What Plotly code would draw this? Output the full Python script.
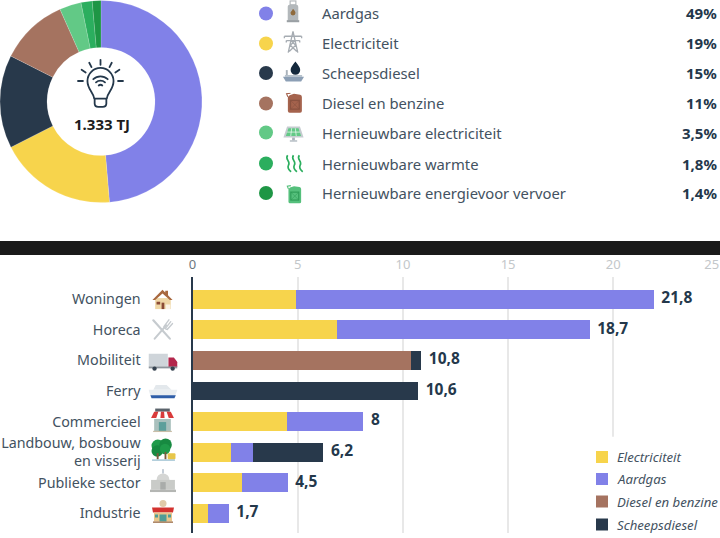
import base64
import plotly.graph_objects as go

W, H = 720, 538
FONT = "Noto Sans"
TXT = "#435261"
DARK = "#24384b"

# ---- data ----
pie_labels = ["Aardgas", "Electriciteit", "Scheepsdiesel", "Diesel en benzine",
              "Hernieuwbare electriciteit", "Hernieuwbare warmte", "Hernieuwbare energievoor vervoer"]
pie_values = [49, 19, 15, 11, 3.5, 1.8, 1.4]
pie_texts = ["49%", "19%", "15%", "11%", "3,5%", "1,8%", "1,4%"]
pie_colors = ["#8181e8", "#f7d44c", "#28394b", "#a57360", "#62c986", "#2bae5e", "#1e9645"]
pie_rows = [13.5, 43.5, 73, 103.5, 132.5, 163.5, 193]

categories = ["Woningen", "Horeca", "Mobiliteit", "Ferry", "Commercieel",
              "Landbouw, bosbouw<br>en visserij", "Publieke sector", "Industrie"]
electriciteit = [4.9, 6.85, 0, 0, 4.45, 1.8, 2.35, 0.7]
aardgas = [17.0, 12.0, 0, 0, 3.65, 1.05, 2.15, 1.0]
diesel = [0, 0, 10.35, 0, 0, 0, 0, 0]
scheepsdiesel = [0, 0, 0.5, 10.7, 0, 3.35, 0, 0]
totals = ["21,8", "18,7", "10,8", "10,6", "8", "6,2", "4,5", "1,7"]
x_ticks = [0, 5, 10, 15, 20, 25]
series_names = ["Electriciteit", "Aardgas", "Diesel en benzine", "Scheepsdiesel"]
series_colors = ["#f7d44c", "#8181e8", "#a57360", "#28394b"]
series_rows = [457, 479, 501.5, 524.5]


def px(v):
    return v / W


def py(v):
    return 1 - v / H


def svg(body, vb=24):
    s = (f'<svg xmlns="http://www.w3.org/2000/svg" width="192" height="192" '
         f'viewBox="0 0 {vb} {vb}">{body}</svg>')
    return "data:image/svg+xml;base64," + base64.b64encode(s.encode()).decode()


def can(c1, c2):
    return (f'<path d="M7 3L12 1.5L19 2.5Q21 3 21 5V21Q21 23 19 23H7Q5 23 5 21V5Z" fill="{c1}"/>'
            f'<path d="M5 5L3.5 1.5L8 0.8" fill="none" stroke="{c1}" stroke-width="1.3"/>'
            f'<rect x="8" y="9" width="10" height="10" fill="none" stroke="{c2}" stroke-width="1.5"/>'
            f'<path d="M8 9L18 19M18 9L8 19" stroke="{c2}" stroke-width=".7"/>')


icons = {
    "gas": (svg('<rect x="6.5" y="5" width="11" height="17" rx="2" fill="#b3b8bb"/>'
                '<rect x="9" y="1" width="6" height="4" fill="none" stroke="#b3b8bb" stroke-width="1.2"/>'
                '<rect x="5.5" y="21" width="13" height="2.2" fill="#9aa0a4"/>'
                '<path d="M12 9c1.6 2 2.6 3 2.6 4.6a2.6 2.6 0 0 1-5.2 0c0-1 .8-1.8 1.3-2.2z" fill="#8f6a3c"/>'), 293, 11.5, 23),
    "pylon": (svg('<path d="M12 1L7 23M12 1L17 23M3 6H21M5 10.5H19M9.8 10.5L14.8 15.5L8 22M14.2 10.5L9.2 15.5L16 22'
                  'M3 6V8M21 6V8M5 10.5V12.5M19 10.5V12.5" fill="none" stroke="#a6acb2" stroke-width="1.4"/>'), 293, 42, 23),
    "ship": (svg('<path d="M14 1c3 4 5 6 5 9a5 5 0 0 1-10 0c0-3 2-5 5-9z" fill="#14293d"/>'
                 '<rect x="4" y="10" width="2" height="6" fill="#aab3bb"/>'
                 '<path d="M3 15H21V17H3z" fill="#b7c2cc"/><path d="M1 17H23L20 22H4z" fill="#8c9fb5"/>'), 293.5, 72, 23),
    "can": (svg(can("#a5634d", "#8a5240")), 294, 103, 21),
    "solar": (svg('<path d="M5 5H19L23 17H1z" fill="#c5ccd0"/><path d="M6.5 6.8H17.5L20.3 15.3H3.7z" fill="#62c986"/>'
                  '<path d="M10 6.8L9 15.3M14 6.8L15 15.3M5 11H19" stroke="#fff" stroke-width=".7"/>'
                  '<rect x="10.5" y="17" width="3" height="3" fill="#aab3bb"/><rect x="8" y="20" width="8" height="1.4" fill="#aab3bb"/>'), 293.5, 133, 22),
    "heat": (svg('<path d="M5 2C1 7 9 9 6 14C4 18 7 20 9 22M12 2C8 7 16 9 13 14C11 18 14 20 16 22M19 2C15 7 23 9 20 14C18 18 21 20 23 22" '
                 'fill="none" stroke="#2bae5e" stroke-width="2"/>'), 293.5, 163.5, 20),
    "gcan": (svg(can("#55c07c", "#2f9c58")), 294, 194.5, 19),
    "house": (svg('<rect x="4" y="11" width="17" height="12" fill="#efd7a6"/>'
                  '<path d="M1 13L12 2L15 5V3H18V8L23 13H20L12 6L4 13z" fill="#a8683f"/>'
                  '<rect x="11" y="16" width="3" height="7" fill="#8a4b35"/><rect x="5.5" y="15" width="4" height="3" fill="#8a4b35"/>'
                  '<rect x="15.5" y="18" width="5" height="5" fill="#fff" opacity=".7"/>'), 162.5, 299, 22),
    "cutlery": (svg('<path d="M2 2.5L20 22.5" stroke="#c6cbcf" stroke-width="2.4" stroke-linecap="round"/>'
                    '<path d="M16 8L3.5 22.5" stroke="#c6cbcf" stroke-width="2.2" stroke-linecap="round"/>'
                    '<path d="M13.5 9.5L19 2M15.5 11L21 4M17.2 12.5L23 6M13.5 9.5Q16 14 18 11.5L17.2 12.5" '
                    'fill="none" stroke="#c6cbcf" stroke-width="1.5" stroke-linecap="round"/>'), 162.5, 329, 22),
    "truck": (svg('<rect x="0" y="6" width="16" height="10.5" fill="#cfd5da"/><path d="M16.5 9H21L24 13V17H16.5z" fill="#b3274c"/>'
                  '<rect x="0" y="16.5" width="24" height="1.6" fill="#8d959c"/><circle cx="5" cy="18.3" r="1.8" fill="#35424f"/><circle cx="20" cy="18.3" r="1.8" fill="#35424f"/>'), 163, 361, 29),
    "ferry": (svg('<path d="M6 7H15L19 11H4z" fill="#e3e8ec"/><path d="M0 11H24L21.5 17H2z" fill="#eaeef1"/>'
                  '<path d="M1.6 15.5H22.6L21.5 18H2.5z" fill="#2f5ea8"/>'), 163, 391, 29),
    "shop": (svg('<rect x="4" y="11" width="16" height="12" fill="#a9c0bd"/><rect x="8.5" y="14" width="7" height="9" fill="#5d9f9b"/>'
                 '<rect x="5" y="1" width="14" height="3" fill="#5a636b"/><path d="M4 4H20L23 10H1z" fill="#d93b3b"/>'
                 '<path d="M8 4L6 10H10L10.5 4zM13.5 4L14 10H18L16 4z" fill="#fff"/><rect x="3" y="22.4" width="18" height="1.2" fill="#c9bea8"/>'), 162.5, 420, 25),
    "trees": (svg('<circle cx="6.5" cy="8" r="6" fill="#1f9b4a"/><circle cx="14" cy="7" r="6" fill="#178a41"/>'
                  '<circle cx="6" cy="13" r="5.5" fill="#178a41"/><circle cx="13.5" cy="11" r="5" fill="#1f9b4a"/><rect x="5.5" y="15" width="1.8" height="6" fill="#7c5a3c"/><rect x="13" y="14" width="1.8" height="7" fill="#7c5a3c"/>'
                  '<rect x="16" y="15" width="7.5" height="6" rx="1" fill="#e7c64a"/><rect x="1" y="21" width="22" height="1.4" fill="#a5c6d6"/>'), 163.5, 450, 25),
    "capitol": (svg('<path d="M6 11a6 6 0 0 1 12 0z" fill="#d5d6d4"/><rect x="11.6" y="1" width=".8" height="4" fill="#7d8ea3"/>'
                    '<rect x="1" y="11" width="22" height="9" fill="#c9cbc8"/><rect x="9.5" y="13" width="5" height="7" fill="#a9acaa"/>'
                    '<rect x="0" y="20" width="24" height="2.2" fill="#b4b6b3"/>'), 163, 481, 26),
    "factory": (svg('<circle cx="12" cy="4" r="3.5" fill="#e0c9a8"/><path d="M1 8H23L22 13H2z" fill="#d3322f"/>'
                    '<rect x="3" y="13" width="18" height="9" fill="#e8c68c"/><rect x="8.5" y="15" width="7" height="7" fill="#4f9c96"/>'
                    '<rect x="4" y="15" width="3" height="3" fill="#4f9c96"/><rect x="17" y="15" width="3" height="3" fill="#4f9c96"/><rect x="2" y="22" width="20" height="1.3" fill="#9c6d47"/>'), 163, 511.5, 24),
    "bulb": (svg('<g fill="none" stroke="#24384b" stroke-width=".8" stroke-linecap="round" stroke-linejoin="round">'
                 '<path d="M9.2 18.2C9 15.6 6.2 14.2 6.2 10.4A5.8 5.8 0 0 1 17.8 10.4C17.8 14.2 15 15.6 14.8 18.2z"/>'
                 '<path d="M9.4 18.2V20.4Q9.4 21.9 11 21.9H13Q14.6 21.9 14.6 20.4V18.2"/>'
                 '<path d="M8.8 9.6A4.6 4.6 0 0 1 15.2 9.6M10 11A3 3 0 0 1 14 11M11.2 12.4A1.2 1.2 0 0 1 12.8 12.4"/>'
                 '<path d="M12 1V3.2M7 2.3L8 4.2M17 2.3L16 4.2M3.6 5.4L5.4 6.6M20.4 5.4L18.6 6.6M2 10.4H4.2M22 10.4H19.8"/></g>'), 100.5, 84.6, 54),
}

fig = go.Figure()

for name, vals, col in zip(series_names, [electriciteit, aardgas, diesel, scheepsdiesel], series_colors):
    fig.add_bar(y=categories, x=vals, name=name, orientation="h", width=0.62, showlegend=False,
                marker=dict(color=col, line_width=0), hoverinfo="skip")

sums = [a + b + c + d for a, b, c, d in zip(electriciteit, aardgas, diesel, scheepsdiesel)]
fig.add_scatter(y=categories, x=sums, mode="text", text=["  " + t for t in totals],
                textposition="middle right", showlegend=False, cliponaxis=False,
                textfont=dict(family=FONT, size=15.5, color=DARK, weight=700))

fig.add_pie(labels=pie_labels, values=pie_values, hole=0.535, sort=False, direction="clockwise",
            rotation=0, marker=dict(colors=pie_colors, line=dict(color="rgba(255,255,255,0.5)", width=0.3)),
            textinfo="none", showlegend=False,
            domain=dict(x=[0, px(202)], y=[py(203), py(0)]))

fig.add_scatter(x=[266] * 7, y=pie_rows, xaxis="x2", yaxis="y2", mode="markers", showlegend=False,
                marker=dict(color=pie_colors, size=14, line_width=0), hoverinfo="skip")
fig.add_scatter(x=[602] * 4, y=series_rows, xaxis="x2", yaxis="y2", mode="markers", showlegend=False,
                marker=dict(color=series_colors, size=12, symbol="square", line_width=0), hoverinfo="skip")

annos = []
for lab, val, r in zip(pie_labels, pie_texts, pie_rows):
    annos.append(dict(x=px(319.5), y=py(r), xref="paper", yref="paper", text=lab, xanchor="left",
                      yanchor="middle", showarrow=False, font=dict(family=FONT, size=14.8, color=TXT)))
    annos.append(dict(x=px(719), y=py(r), xref="paper", yref="paper", text=f"<b>{val}</b>", xanchor="right",
                      yanchor="middle", showarrow=False, font=dict(family=FONT, size=15, color=DARK)))
for lab, r in zip(series_names, series_rows):
    annos.append(dict(x=px(615), y=py(r), xref="paper", yref="paper", text=lab, xanchor="left", yanchor="middle",
                      showarrow=False, font=dict(family=FONT, size=13.2, color=TXT, style="italic")))
annos.append(dict(x=px(102), y=py(123.5), xref="paper", yref="paper", text="<b>1.333 TJ</b>", showarrow=False,
                  xanchor="center", yanchor="middle", font=dict(family=FONT, size=15, color="#1c1c1c")))

images = [dict(source=s, x=px(cx), y=py(cy), sizex=sz / W, sizey=sz / H, xref="paper", yref="paper",
               xanchor="center", yanchor="middle", sizing="contain", layer="above")
          for s, cx, cy, sz in icons.values()]

tick_text = []
for t in x_ticks:
    colour = "#6d7780" if t == 0 else "#c3c7ca"
    pad = "&nbsp;" * 4 if t == x_ticks[-1] else ""
    tick_text.append(f'<span style="color:{colour}">{t}</span>{pad}')

fig.update_layout(
    width=W, height=H, autosize=False,
    margin=dict(l=0, r=0, t=0, b=0, autoexpand=False),
    paper_bgcolor="white", plot_bgcolor="rgba(0,0,0,0)",
    barmode="stack", bargap=0, showlegend=False,
    font=dict(family=FONT, color=TXT),
    annotations=annos, images=images,
    xaxis=dict(domain=[px(192.5), px(718.5)], range=[0, 25], side="top", tickvals=x_ticks, ticktext=tick_text,
               showgrid=True, gridcolor="#e8e8e8", gridwidth=1.5, zeroline=False, ticks="outside", ticklen=2,
               tickcolor="rgba(0,0,0,0)", tickfont=dict(family=FONT, size=13), anchor="y", showline=False,
               automargin=False, ticklabeloverflow="allow"),
    yaxis=dict(domain=[py(533), py(277)], range=[7.644, -0.729], type="category", categoryorder="array",
               categoryarray=categories, showgrid=False, zeroline=False, showline=True, linecolor="#28394b",
               linewidth=2, ticks="", tickfont=dict(family=FONT, size=14.3, color=TXT), ticklabelstandoff=47,
               anchor="x", automargin=False),
    xaxis2=dict(domain=[0, 1], range=[0, W], visible=False, fixedrange=True, anchor="y2"),
    yaxis2=dict(domain=[0, 1], range=[H, 0], visible=False, fixedrange=True, anchor="x2"),
    shapes=[dict(type="rect", xref="paper", yref="paper", x0=px(0), x1=px(720), y0=py(255), y1=py(241),
                 fillcolor="#1a1a1a", line_width=0, layer="above"),
            dict(type="rect", xref="x", yref="y", x0=18.9, x1=25.5, y0=4.5, y1=7.7,
                 fillcolor="white", line_width=0, layer="between")],
)

fig.write_html("out.html", config={"displayModeBar": False},
               post_script="document.body.style.margin='0';document.documentElement.style.overflow='hidden';")
